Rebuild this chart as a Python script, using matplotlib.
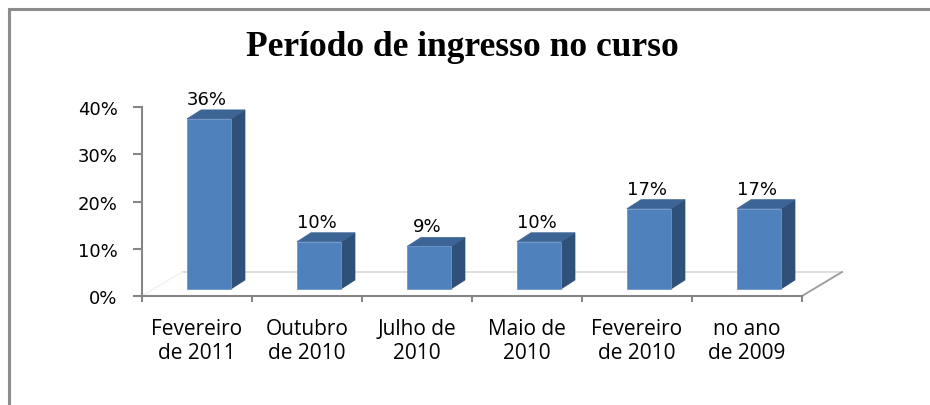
import matplotlib
matplotlib.use("Agg")
import matplotlib.pyplot as plt
from matplotlib.patches import Polygon
from matplotlib.lines import Line2D
import numpy as np

# data
categories = ["Fevereiro\nde 2011", "Outubro\nde 2010", "Julho de\n2010",
              "Maio de\n2010", "Fevereiro\nde 2010", "no ano\nde 2009"]
values = [36, 10, 9, 10, 17, 17]
yticks = [0, 10, 20, 30, 40]
ytick_labels = ["0%", "10%", "20%", "30%", "40%"]
title = "Período de ingresso no curso"

W, H = 930, 406
fig = plt.figure(figsize=(W / 100, H / 100), dpi=100)
ax = fig.add_axes([142 / W, 1 - 297 / H, 660 / W, 189 / H])
n = len(values)
ax.set_xlim(-0.5, n - 0.5)
ax.set_ylim(0, 40)

# pixels per data unit, used to turn the 3d offsets into data units
sx = 660 / n
sy = 189 / 40

front_c = "#4F81BD"
side_c = "#2F5179"
top_c = "#3C6595"
axis_c = "#868686"

bar_w = 44 / sx
lift = 7 / sy
ddx, ddy = 14 / sx, 9 / sy   # bar depth
fdx, fdy = 40 / sx, 24 / sy  # floor depth

# floor
ax.add_line(Line2D([-0.5 + fdx, n - 0.5 + fdx], [fdy, fdy], color="#d9d9d9",
                   lw=1.2, clip_on=False, zorder=1))
ax.add_line(Line2D([-0.5, -0.5 + fdx], [0, fdy], color="#f2f2f2",
                   lw=1.0, clip_on=False, zorder=1))
ax.add_line(Line2D([n - 0.5, n - 0.5 + fdx], [0, fdy], color="#9a9a9a",
                   lw=1.3, clip_on=False, zorder=1))

for i, v in enumerate(values):
    left = i - 0.5 + 45 / sx
    right = left + bar_w
    b = lift
    t = lift + v
    ax.bar(left, v, width=bar_w, bottom=b, align="edge", color=front_c,
           edgecolor="#6d96c9", linewidth=0.6, zorder=3)
    ax.add_patch(Polygon([(right, b), (right, t), (right + ddx, t + ddy),
                          (right + ddx, b + ddy)], closed=True,
                         facecolor=side_c, edgecolor=side_c, lw=0.5,
                         zorder=2, clip_on=False))
    ax.add_patch(Polygon([(left, t), (right, t), (right + ddx, t + ddy),
                          (left + ddx, t + ddy)], closed=True,
                         facecolor=top_c, edgecolor=top_c, lw=0.5,
                         zorder=2, clip_on=False))
    ax.text(left + bar_w / 2 - 2 / sx, t + ddy + 2 / sy, f"{v}%",
            ha="center", va="bottom", fontsize=13, family="DejaVu Sans",
            color="black", clip_on=False)

# axes
for s in ["top", "right"]:
    ax.spines[s].set_visible(False)
for s in ["left", "bottom"]:
    ax.spines[s].set_color(axis_c)
    ax.spines[s].set_linewidth(1.5)

ax.set_yticks(yticks)
ax.set_yticklabels(ytick_labels, fontsize=13, family="DejaVu Sans")
ax.tick_params(axis="y", length=6.5, width=1.5, color=axis_c, pad=11)

ax.set_xticks(np.arange(-0.5, n), labels=[""] * (n + 1))
ax.tick_params(axis="x", which="major", length=4.5, width=1.5, color=axis_c)
ax.set_xticks(np.arange(n), minor=True)
ax.set_xticklabels(categories, minor=True, fontsize=15, family="Open Sans",
                   linespacing=1.2)
ax.tick_params(axis="x", which="minor", length=0, pad=16)

# outer frame of the chart
fig.add_artist(Line2D([9 / W, 9 / W], [0, 1 - 10 / H], transform=fig.transFigure,
                      color="#8c8c8c", lw=2.2))
fig.add_artist(Line2D([9 / W, 1], [1 - 10 / H, 1 - 10 / H], transform=fig.transFigure,
                      color="#8c8c8c", lw=2.2))

fig.text(462 / W, 1 - 56 / H, title, ha="center", va="baseline", fontsize=25.5,
         fontweight="bold", family="Liberation Serif")

fig.savefig("out.png", dpi=100)
